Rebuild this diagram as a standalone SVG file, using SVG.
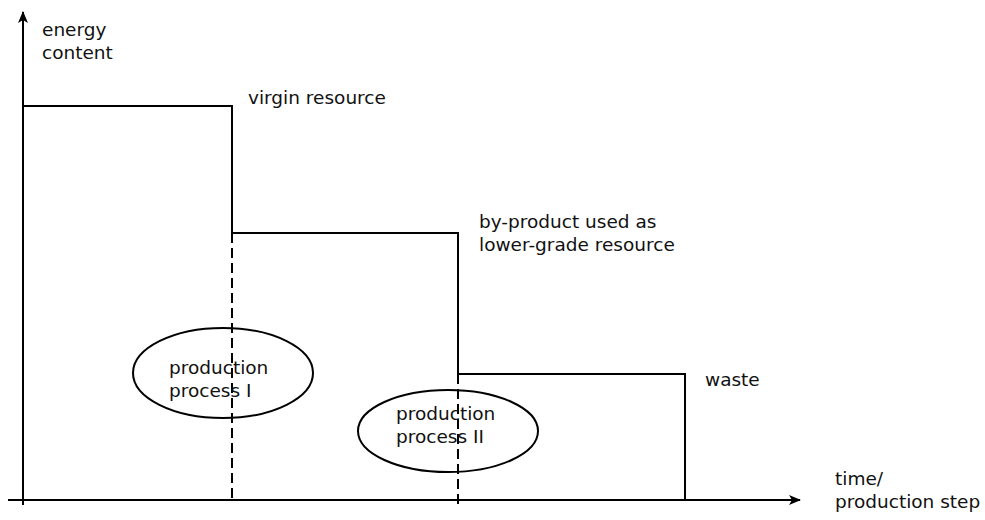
<svg xmlns="http://www.w3.org/2000/svg" width="985" height="520" viewBox="0 0 985 520">
<style>
.ln{stroke:#000;stroke-width:2;fill:none}
.ds{stroke:#000;stroke-width:2;fill:none;stroke-dasharray:10,5}
.el{stroke:#000;stroke-width:2;fill:none}
text{font-family:"DejaVu Sans",Verdana,sans-serif;font-size:18.5px;fill:#111}
</style>
<defs>
<marker id="ah" markerWidth="12" markerHeight="10" refX="11" refY="5" orient="auto" markerUnits="userSpaceOnUse">
<path d="M0,0 L12,5 L0,10 L3,5 Z" fill="#000"/>
</marker>
</defs>
<g id="connectors">
<line class="ln" x1="23" y1="505" x2="23" y2="12" marker-end="url(#ah)"/>
<line class="ln" x1="8" y1="500" x2="800" y2="500" marker-end="url(#ah)"/>
<polyline class="ln" points="23,106 232,106 232,233 458,233 458,374 685,374 685,500"/>
</g>
<g id="process1">
<ellipse class="el" cx="223" cy="373" rx="90" ry="45"/>
<line class="ds" x1="232" y1="233" x2="232" y2="500"/>
<text x="169" y="374">production</text>
<text x="169" y="397">process I</text>
</g>
<g id="process2">
<ellipse class="el" cx="448" cy="431" rx="90" ry="41"/>
<line class="ds" x1="458" y1="374" x2="458" y2="507"/>
<text x="396" y="420">production</text>
<text x="396" y="443">process II</text>
</g>
<g id="labels">
<text x="42" y="36">energy</text>
<text x="42" y="59">content</text>
<text x="248" y="104">virgin resource</text>
<text x="479" y="228">by-product used as</text>
<text x="479" y="251">lower-grade resource</text>
<text x="705" y="386">waste</text>
<text x="835" y="485">time/</text>
<text x="835" y="508">production step</text>
</g>
</svg>
